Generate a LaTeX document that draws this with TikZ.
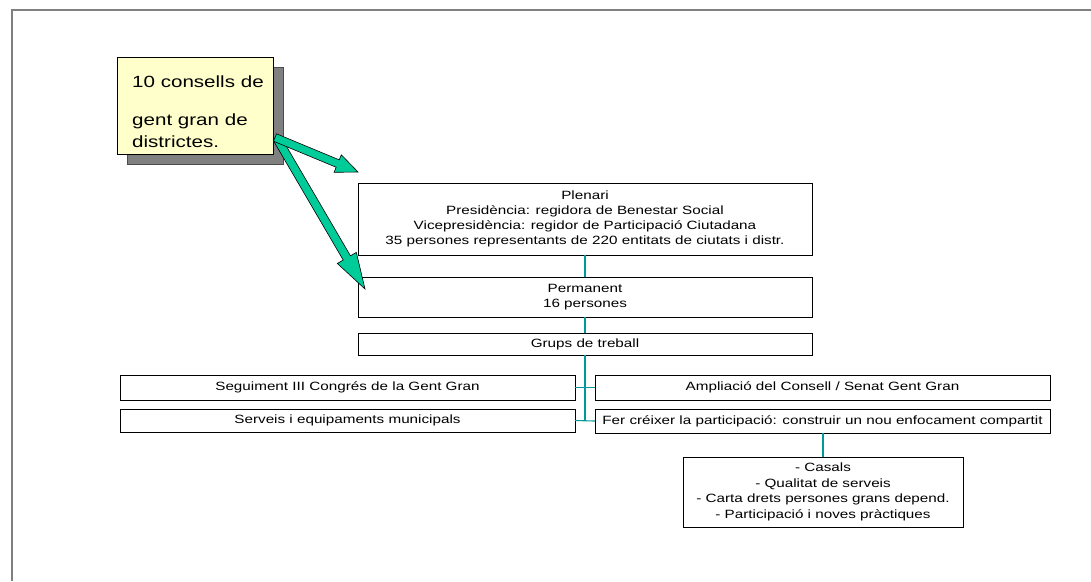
\documentclass[tikz,border=0pt]{standalone}
\usepackage{fontspec}
\setmainfont{Liberation Sans}[FakeStretch=1.27]
\usetikzlibrary{calc,shadows}
\definecolor{framegray}{RGB}{128,128,128}
\definecolor{yfill}{RGB}{255,255,204}
\definecolor{sgray}{RGB}{128,128,128}
\definecolor{agreen}{RGB}{0,204,153}
\definecolor{lteal}{RGB}{0,153,153}
\newcommand{\blkarrow}[5]{%
  \coordinate (#1h) at ($(#2)!#3!(#1)$);
  \filldraw[arrowbody] ($(#1)!#5!90:(#2)$) -- ($(#1h)!#5!90:(#2)$) -- ($(#1h)!#4!90:(#2)$) -- (#2)
    -- ($(#1h)!#4!-90:(#2)$) -- ($(#1h)!#5!-90:(#2)$) -- ($(#1)!#5!-90:(#2)$) -- cycle;}
\tikzset{
  boxnode/.style={draw=black, line width=0.8pt, fill=white, inner sep=0pt, outer sep=0pt,
    align=center, font=\fontsize{12}{15}\selectfont,
    general shadow={shadow xshift=1.2pt, shadow yshift=-1.2pt, fill=black!45}},
  ybox/.style={draw=black, line width=0.8pt, fill=yfill, inner sep=0pt, outer sep=0pt,
    minimum width=156pt, minimum height=97pt,
    general shadow={shadow xshift=10pt, shadow yshift=-10pt, fill=sgray, draw=black!70, line width=0.8pt}},
  ytext/.style={inner sep=0pt, align=left, font=\fontsize{16.2}{22}\selectfont},
  conn/.style={draw=lteal, line width=1.1pt},
  arrowbody/.style={fill=agreen, draw=black, line width=0.6pt, line join=miter},
  framestyle/.style={draw=framegray, line width=1.4pt}
}
\begin{document}
\begin{tikzpicture}[x=1pt,y=-1pt]
\useasboundingbox (0,0) rectangle (1091,581);
\draw[framestyle] (12,581) -- (12,10) -- (1091,10);

% yellow box
\node[ybox] (yb) at (195,106) {};
\node[ytext, anchor=north west] (yt) at (132,75.5) {10 consells de\\[16pt]gent gran de\\districtes.};

% main boxes
\node[boxnode, minimum width=454pt, minimum height=72pt] (plen) at (585,219)
  {Plenari\\Presidència: regidora de Benestar Social\\Vicepresidència: regidor de Participació Ciutadana\\35 persones representants de 220 entitats de ciutats i distr.};
\node[boxnode, minimum width=454pt, minimum height=40pt] (perm) at (585,297) {Permanent\\16 persones};
\node[boxnode, minimum width=454pt, minimum height=22pt] (grups) at (585,344) {Grups de treball};
\node[boxnode, minimum width=455pt, minimum height=25pt] (seg) at (347.5,387.5) {Seguiment III Congrés de la Gent Gran};
\node[boxnode, minimum width=455pt, minimum height=23pt] (serv) at (347.5,420.5) {Serveis i equipaments municipals};
\node[boxnode, minimum width=455pt, minimum height=25pt] (amp) at (822.5,387.5) {Ampliació del Consell / Senat Gent Gran};
\node[boxnode, minimum width=455pt, minimum height=24pt] (fer) at (822.5,421) {Fer créixer la participació: construir un nou enfocament compartit};
\node[boxnode, minimum width=280pt, minimum height=70pt, font=\fontsize{12}{15.5}\selectfont] (cas) at (823,492)
  {- Casals\\- Qualitat de serveis\\- Carta drets persones grans depend.\\- Participació i noves pràctiques};

% connectors
\draw[conn] (plen.south) -- (perm.north);
\draw[conn] (perm.south) -- (grups.north);
\draw[conn] (grups.south) -- (grups.south |- fer.west);
\draw[conn] (seg.east) -- (amp.west);
\draw[conn] (serv.east) -- (fer.west);
\draw[conn] (fer.south -| cas.north) -- (cas.north);

% block arrows
\coordinate (a1s) at ($(yb.south east)+(2,-17)$);
\coordinate (t1) at (358,172);
\coordinate (a2s) at ($(yb.south east)+(4,-16)$);
\coordinate (t2) at (365,289);
\blkarrow{a2s}{t2}{36pt}{11pt}{4.2pt}
\blkarrow{a1s}{t1}{22pt}{9.5pt}{4pt}
\end{tikzpicture}
\end{document}
